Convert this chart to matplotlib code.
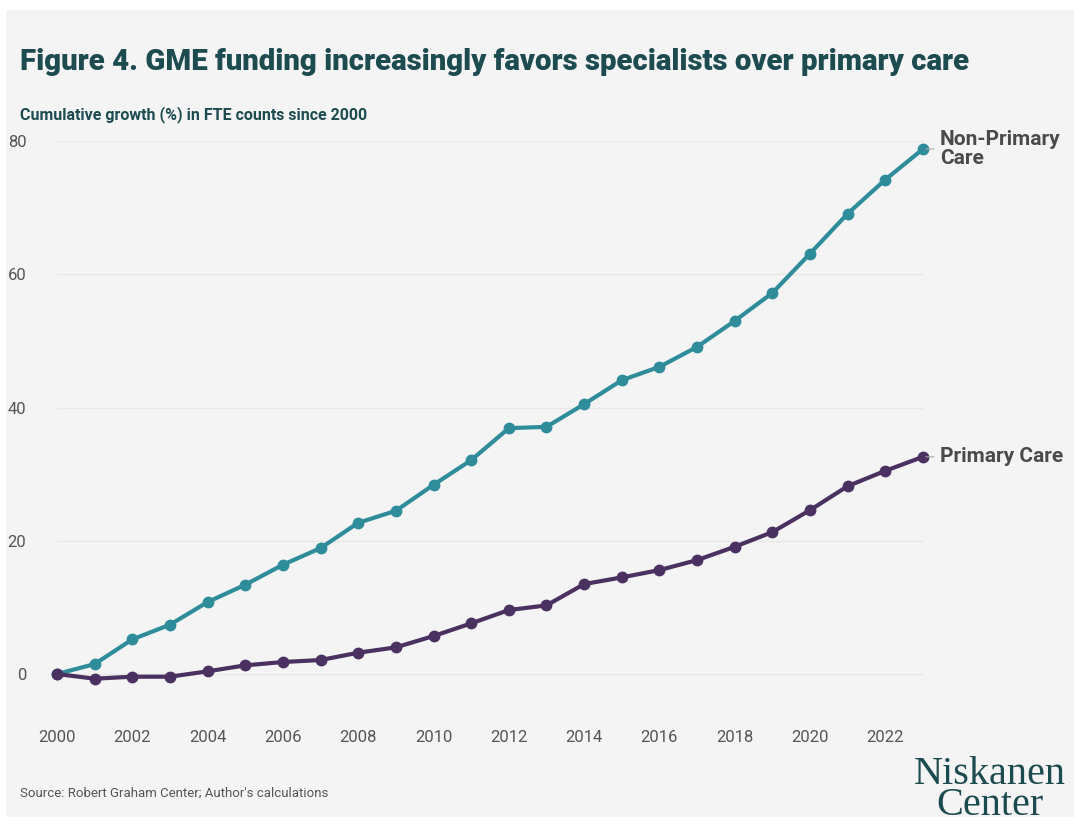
import matplotlib
matplotlib.use('Agg')
import matplotlib.pyplot as plt
from matplotlib.patches import Rectangle

# Cumulative growth (%) in FTE counts since 2000
years = list(range(2000, 2024))
non_primary = [0, 1.5, 5.2, 7.4, 10.8, 13.4, 16.4, 18.9, 22.7, 24.5, 28.4, 32.1,
               36.9, 37.1, 40.5, 44.1, 46.1, 49.1, 53.0, 57.2, 63.1, 69.1, 74.2, 78.8]
primary = [0, -0.7, -0.4, -0.4, 0.4, 1.3, 1.8, 2.1, 3.2, 4.0, 5.7, 7.6,
           9.6, 10.3, 13.5, 14.5, 15.6, 17.1, 19.1, 21.3, 24.6, 28.2, 30.5, 32.6]
series_labels = ['Non-Primary\nCare', 'Primary Care']
x_ticks = list(range(2000, 2023, 2))
y_ticks = [0, 20, 40, 60, 80]

TEAL = '#2f8d9b'
PURPLE = '#4a3161'
DARK = '#1c4b50'
BG = '#f4f4f4'

plt.rcParams['font.family'] = ['Roboto', 'DejaVu Sans']

fig = plt.figure(figsize=(10.74, 8.27), dpi=100, facecolor='white')
# grey card behind everything, leaving a thin white margin
fig.patches.append(Rectangle((6 / 1074, 10 / 827), 1, 1 - 20 / 827,
                             transform=fig.transFigure, facecolor=BG,
                             edgecolor='none', zorder=-10))

ax = fig.add_axes([57 / 1074, (827 - 708) / 827, 866 / 1074, (708 - 141) / 827])
ax.patch.set_alpha(0)

for vals, color in [(non_primary, TEAL), (primary, PURPLE)]:
    ax.plot(years, vals, color=color, lw=3, marker='o', ms=7.5,
            clip_on=False, zorder=3)

ax.set_xlim(2000, 2023)
ax.set_ylim(-5.1, 80)
ax.set_xticks(x_ticks)
ax.set_yticks(y_ticks)
ax.tick_params(length=0, labelsize=12, labelcolor='#555555')
ax.tick_params(axis='x', pad=16)
ax.tick_params(axis='y', pad=22)
ax.grid(axis='y', color='#e8e8e8', lw=1)
ax.axhline(-5.1, color='#e8e8e8', lw=1)
for s in ax.spines.values():
    s.set_visible(False)

# end-of-line labels with a short leader
for vals, name in [(non_primary, series_labels[0]), (primary, series_labels[1])]:
    ax.annotate(name, xy=(years[-1], vals[-1]), xytext=(12, 0),
                textcoords='offset points', ha='left', va='center',
                fontsize=15, fontweight='bold', color='#4a4a4a',
                linespacing=1.0, annotation_clip=False,
                arrowprops=dict(arrowstyle='-', color='#aaaaaa', lw=0.8,
                                shrinkA=2, shrinkB=2))

fig.text(20 / 1074, 1 - 62 / 827,
         'Figure 4. GME funding increasingly favors specialists over primary care',
         fontsize=21.2, fontweight=900, color=DARK, va='center', ha='left')
fig.text(20 / 1074, 1 - 115 / 827, 'Cumulative growth (%) in FTE counts since 2000',
         fontsize=11.5, fontweight='bold', color=DARK, va='center', ha='left')
fig.text(20 / 1074, 1 - 793 / 827, "Source: Robert Graham Center; Author's calculations",
         fontsize=9.5, color='#555555', va='center', ha='left')
fig.text(990 / 1074, 1 - 790 / 827, 'Niskanen\nCenter', family='Liberation Serif',
         fontsize=29, color=DARK, ha='center', va='center', linespacing=0.82)

fig.savefig('out.png', dpi=100, facecolor='white')
